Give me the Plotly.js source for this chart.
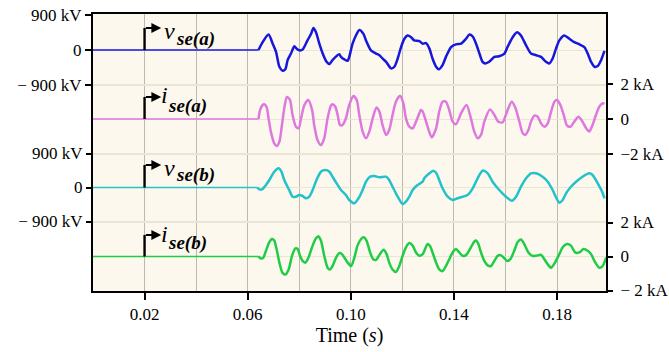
<!DOCTYPE html>
<html><head><meta charset="utf-8">
<script src="https://cdn.plot.ly/plotly-3.0.1.min.js"></script>
<style>html,body{margin:0;padding:0;background:#fff}#chart{width:669px;height:352px}</style>
</head><body><div id="chart"></div>
<script>
// ---------- DATA (time in ms, voltages in kV, currents in kA) ----------
const tVa = [0, 64.2, 65.8, 68.1, 69.7, 71.0, 72.3, 73.5, 74.6, 75.5, 76.8, 78.1, 79.0, 80.0, 81.3, 83.2, 84.6, 85.5, 86.5, 87.8, 89.1, 90.6, 91.7, 92.9, 95.5, 96.2, 97.5, 98.8, 99.4, 100.7, 102.0, 103.3, 104.9, 105.9, 107.8, 109.8, 111.1, 112.3, 113.7, 115.6, 116.9, 118.2, 119.5, 120.8, 122.0, 123.4, 124.6, 126.6, 127.9, 129.2, 130.5, 131.7, 133.1, 134.1, 135.6, 136.9, 138.9, 140.8, 142.8, 144.7, 146.0, 147.3, 148.6, 149.9, 151.1, 152.2, 153.7, 155.7, 157.6, 159.6, 160.8, 162.8, 164.5, 166.0, 168.0, 169.9, 171.9, 173.8, 175.7, 177.0, 178.3, 179.6, 180.9, 182.8, 184.8, 186.7, 188.7, 190.6, 191.9, 193.2, 194.5, 195.8, 197.1, 198.4];
const vSeA = [0, 0, 203, 398, 162, -51, -431, -532, -497, -261, -91, 94, 35, -8, 10, 246, 416, 568, 456, 162, -91, -304, -363, -261, -109, -177, -243, -279, -177, 162, 373, 517, 416, 246, -8, -91, -134, -218, -304, -472, -431, -218, 76, 289, 373, 330, 246, 228, 162, 177, 35, -218, -431, -497, -388, -177, 76, 145, 162, 289, 398, 347, 162, -91, -304, -345, -304, -177, -160, -91, 76, 330, 456, 373, 119, -91, -134, -177, -304, -345, -218, 35, 246, 373, 289, 203, 145, 76, -91, -304, -431, -413, -261, -25];

const tIa = [0, 64.2, 64.8, 65.8, 66.4, 67.3, 68.1, 69.0, 70.3, 71.2, 72.3, 73.3, 74.2, 75.2, 76.4, 77.4, 78.7, 79.8, 80.7, 82.0, 83.5, 85.0, 85.8, 87.1, 88.4, 89.7, 91.0, 92.3, 92.9, 94.0, 94.9, 95.8, 96.8, 98.1, 99.4, 101.0, 102.3, 103.3, 104.6, 105.9, 107.2, 108.5, 109.9, 111.1, 112.3, 113.7, 114.9, 116.2, 117.5, 119.1, 120.4, 121.4, 122.7, 124.0, 125.3, 126.6, 127.2, 127.9, 129.2, 129.8, 131.4, 133.1, 134.3, 135.6, 136.9, 138.2, 139.5, 140.8, 142.8, 144.9, 146.6, 147.9, 149.2, 150.5, 151.8, 154.0, 155.7, 157.2, 158.9, 160.6, 162.4, 163.7, 165.4, 166.7, 167.7, 168.9, 169.9, 171.2, 172.5, 173.8, 175.1, 176.4, 177.7, 179.0, 180.0, 181.3, 182.6, 183.9, 185.2, 186.7, 188.3, 189.5, 191.3, 192.5, 193.8, 195.1, 196.4, 197.7, 198.4];
const iSeA = [0, 0, 0.51, 0.80, 0.84, 0.70, 0.04, -0.72, -1.39, -1.54, -1.30, -0.34, 0.61, 1.26, 1.09, 0.23, -0.44, -0.53, 0.04, 0.80, 1.09, 0.51, -0.34, -1.20, -1.49, -1.10, 0.04, 0.76, 0.84, 0.70, 0.23, -0.34, -0.34, 0.04, 0.80, 1.31, 1.09, 0.23, -0.72, -1.10, -0.72, 0.04, 0.65, 0.42, -0.34, -0.91, -0.63, 0.23, 0.99, 1.33, 0.90, 0.04, -0.44, -0.53, -0.15, 0.33, 0.51, 0.42, -0.15, -0.44, -1.05, -0.53, 0.42, 0.99, 0.99, 0.51, -0.15, -0.30, 0.33, 0.80, 0.04, -0.72, -1.10, -0.91, -0.15, 0.55, 0.23, -0.15, -0.19, 0.42, 0.99, 0.70, -0.15, -0.82, -0.91, -0.63, -0.15, 0.19, 0.13, -0.25, -0.44, -0.25, 0.42, 0.99, 1.09, 0.80, 0.23, -0.38, -0.44, -0.15, 0.13, -0.06, -0.53, -0.72, -0.34, 0.23, 0.70, 0.90, 0.86];

const tVb = [0, 63.8, 64.5, 65.6, 66.8, 68.4, 70.3, 72.0, 72.9, 74.2, 76.1, 77.4, 78.7, 80.0, 81.3, 82.6, 83.9, 85.2, 86.7, 88.4, 90.1, 91.7, 92.9, 94.5, 96.2, 98.1, 99.4, 101.4, 103.0, 104.6, 105.9, 107.5, 109.1, 111.1, 113.7, 114.9, 116.2, 118.2, 120.1, 121.4, 122.7, 124.0, 125.9, 127.9, 128.5, 130.5, 132.0, 133.1, 134.3, 135.6, 137.6, 139.5, 141.4, 143.4, 145.3, 147.3, 149.2, 151.1, 153.1, 155.0, 157.6, 160.2, 162.5, 164.1, 166.0, 168.0, 169.9, 171.9, 174.4, 176.4, 178.3, 179.8, 180.9, 182.2, 183.5, 185.4, 187.4, 189.9, 192.5, 193.8, 195.8, 197.5, 198.4];
const vSeB = [0, 0, -48, -48, 40, 199, 418, 508, 445, 199, -66, -244, -244, -199, -225, -286, -244, -66, 199, 418, 463, 418, 286, 111, -66, -199, -331, -418, -286, -66, 154, 286, 304, 270, 286, 199, 21, -244, -437, -376, -244, -66, 66, 154, 243, 376, 445, 392, 199, -21, -244, -331, -286, -244, -199, -21, 243, 445, 376, 154, -66, -244, -349, -244, 21, 243, 376, 376, 286, 154, -66, -286, -402, -331, -154, 21, 154, 286, 376, 331, 111, -111, -286];

const tIb = [0, 64.2, 65.2, 66.1, 67.1, 68.4, 69.4, 70.3, 71.2, 72.3, 73.5, 74.6, 75.9, 77.2, 78.5, 79.4, 80.3, 81.3, 82.4, 83.6, 85.2, 86.5, 87.4, 88.4, 89.7, 91.0, 91.9, 92.9, 94.3, 95.5, 96.6, 97.5, 98.8, 100.1, 101.4, 102.6, 104.0, 105.0, 106.1, 107.5, 108.7, 109.8, 111.3, 112.7, 113.9, 114.9, 116.2, 117.5, 118.8, 120.1, 121.4, 122.7, 124.0, 125.3, 126.6, 127.9, 129.8, 130.8, 131.7, 133.1, 134.3, 135.6, 136.9, 138.2, 139.5, 140.8, 142.1, 143.4, 144.7, 146.6, 147.9, 148.6, 149.5, 150.5, 151.8, 153.1, 154.4, 155.7, 157.0, 158.0, 159.3, 160.6, 161.9, 163.4, 164.7, 166.0, 167.3, 168.9, 170.5, 171.9, 173.8, 175.1, 176.4, 177.7, 179.2, 180.9, 182.2, 183.9, 185.4, 187.0, 188.7, 190.3, 191.9, 193.2, 194.7, 196.4, 197.7, 199.0];
const iSeB = [0, 0, -0.12, -0.06, 0.34, 0.84, 1.03, 0.94, 0.44, -0.36, -0.96, -1.06, -0.76, 0.04, 0.48, 0.44, 0.04, -0.26, -0.36, -0.06, 0.64, 1.07, 1.19, 0.94, 0.04, -0.66, -0.76, -0.56, -0.06, 0.20, 0.14, -0.06, -0.36, -0.56, -0.06, 0.64, 1.03, 1.13, 0.94, 0.24, -0.16, -0.20, 0.14, 0.40, 0.14, -0.36, -0.76, -0.91, -0.56, 0.04, 0.54, 0.79, 0.64, 0.24, 0.04, 0.14, 0.73, 0.60, 0.24, -0.36, -0.76, -0.86, -0.56, -0.16, 0.24, 0.44, 0.24, 0.04, 0.08, 0.54, 0.88, 0.94, 0.73, 0.24, -0.26, -0.52, -0.56, -0.26, 0.04, 0.08, -0.06, -0.26, -0.16, 0.34, 0.84, 1.00, 0.73, 0.24, 0.04, 0.04, 0.10, -0.16, -0.46, -0.66, -0.36, 0.14, 0.54, 0.73, 0.64, 0.24, 0.24, 0.44, 0.34, 0.14, -0.32, -0.66, -0.56, -0.06];

const xTickVals = [0.02, 0.06, 0.10, 0.14, 0.18];
const xTickText = ["0.02", "0.06", "0.10", "0.14", "0.18"];
const kvTickVals = [-900, 0, 900];
const kvTickText = ["\u2212 900 kV", "0", "900 kV"];
const kaTickVals = [-2, 0, 2];
const kaTickTextA = ["\u22122 kA", "0", "2 kA"];
const kaTickTextB = ["\u2212 2 kA", "0", "2 kA"];

// signal labels: main symbol + subscript
const labelMain = ["v", "i", "v", "i"];
const labelSub = ["se(a)", "se(a)", "se(b)", "se(b)"];

// ---------- LAYOUT GEOMETRY ----------
const W = 669, H = 352;
const M = {l: 93, r: 63, t: 14, b: 61};
const TOP = M.t, BOT = H - M.b;
function yr(zeroPx, pxPerUnit) { return [(zeroPx - BOT) / pxPerUnit, (zeroPx - TOP) / pxPerUnit]; }
const PXT = 0.02 / 51.55;               // seconds per pixel
const xAt = px => (px - M.l - 0.75) * PXT;

const FONT = "'Liberation Serif', 'Times New Roman', serif";
const sec = a => a.map(v => v / 1000);

const colors = {va: "#1616dc", ia: "#de78de", vb: "#22c2c8", ib: "#1fcc46"};

function pair(t, y, col, yaxis) {
  const x = sec(t);
  return [
    {x: x.slice(0, 2), y: y.slice(0, 2), yaxis, type: "scatter", mode: "lines",
     line: {color: col, width: 1.3}, hoverinfo: "skip", showlegend: false},
    {x: x.slice(1), y: y.slice(1), yaxis, type: "scatter", mode: "lines",
     line: {color: col, width: 2.5, shape: "spline", smoothing: 0.7}, showlegend: false}
  ];
}

const data = [
  ...pair(tVa, vSeA, colors.va, "y"),
  ...pair(tIa, iSeA, colors.ia, "y2"),
  ...pair(tVb, vSeB, colors.vb, "y3"),
  ...pair(tIb, iSeB, colors.ib, "y4")
];

const gridLight = "#ebe5d6";
const gridDark = "#bfb8ad";
const tickFont = {family: FONT, size: 17, color: "#000"};

const yBase = {
  tickmode: "array", ticks: "outside", ticklen: 6, tickwidth: 2, tickcolor: "#000",
  showgrid: true, gridcolor: gridLight, gridwidth: 1, zeroline: false,
  tickfont: tickFont, fixedrange: true
};

const rVa = yr(50, 35 / 900), rIa = yr(119, 35 / 2), rVb = yr(187.5, 34 / 900), rIb = yr(256.5, 34 / 2);

// label geometry in pixels: arrow level, main-letter centre, subscript centre, x positions
const labelDefs = [
  {yref: "y",  zero: 50,    ppu: 35 / 900, lvl: 28,  mainY: 31,  subY: 39,  mainX: 164, subX: 176},
  {yref: "y2", zero: 119,   ppu: 35 / 2,   lvl: 97,  mainY: 95,  subY: 106, mainX: 161, subX: 168},
  {yref: "y3", zero: 187.5, ppu: 34 / 900, lvl: 165, mainY: 168, subY: 175, mainX: 164, subX: 176},
  {yref: "y4", zero: 256.5, ppu: 34 / 2,   lvl: 235, mainY: 234, subY: 243, mainX: 161, subX: 168}
];
const shapes = [], annotations = [];
labelDefs.forEach((d, k) => {
  const level = (d.zero - d.lvl) / d.ppu;
  shapes.push({type: "line", xref: "x", yref: d.yref, x0: 0.02, x1: 0.02, y0: 0, y1: level,
    line: {color: "#000", width: 2.4}});
  annotations.push({xref: "x", yref: d.yref, x: xAt(162), y: level, ax: 0.0199, ay: level,
    axref: "x", ayref: d.yref, text: "", showarrow: true, arrowhead: 2, arrowsize: 0.9,
    arrowwidth: 2.2, arrowcolor: "#000", standoff: 0});
  annotations.push({xref: "x", yref: d.yref, x: xAt(d.mainX), y: level, xanchor: "left", yanchor: "middle",
    yshift: d.lvl - d.mainY, showarrow: false, borderpad: 0,
    text: "<i>" + labelMain[k] + "</i>", font: {family: FONT, size: 24, color: "#000"}});
  annotations.push({xref: "x", yref: d.yref, x: xAt(d.subX), y: level, xanchor: "left", yanchor: "middle",
    yshift: d.lvl - d.subY, showarrow: false, borderpad: 0,
    text: "<b><i>" + labelSub[k] + "</i></b>", font: {family: FONT, size: 19, color: "#000"}});
});

const layout = {
  width: W, height: H, margin: M,
  paper_bgcolor: "#ffffff", plot_bgcolor: "#fcf8ee",
  showlegend: false,
  xaxis: {
    range: [0, 0.199], tickmode: "array", tickvals: xTickVals, ticktext: xTickText,
    ticks: "outside", ticklen: 7, tickwidth: 2, tickcolor: "#000",
    showline: true, linewidth: 2, linecolor: "#000", mirror: true,
    showgrid: true, gridcolor: gridDark, gridwidth: 1, zeroline: false,
    minor: {tickmode: "linear", tick0: 0, dtick: 0.02, showgrid: true, gridcolor: gridDark, gridwidth: 1, ticks: ""},
    tickfont: tickFont,
    title: {text: "Time (<i>s</i>)", font: {family: FONT, size: 20, color: "#000"}, standoff: 3},
    fixedrange: true
  },
  xaxis2: {
    overlaying: "x", matches: "x", range: [0, 0.199], tickmode: "array", tickvals: xTickVals,
    ticks: "inside", ticklen: 7, tickwidth: 2, tickcolor: "#000", showticklabels: false,
    showgrid: false, showline: false, zeroline: false, anchor: "y"
  },
  yaxis: Object.assign({}, yBase, {range: rVa, tickvals: kvTickVals, ticktext: kvTickText, side: "left",
    showline: true, linewidth: 2, linecolor: "#000", mirror: true}),
  yaxis2: Object.assign({}, yBase, {range: rIa, tickvals: kaTickVals, ticktext: kaTickTextA, side: "right",
    overlaying: "y", ticklabelstandoff: 4}),
  yaxis3: Object.assign({}, yBase, {range: rVb, tickvals: kvTickVals, ticktext: kvTickText, side: "left",
    overlaying: "y"}),
  yaxis4: Object.assign({}, yBase, {range: rIb, tickvals: kaTickVals, ticktext: kaTickTextB, side: "right",
    overlaying: "y", ticklabelstandoff: 4}),
  shapes, annotations
};

Plotly.newPlot("chart", data, layout, {displayModeBar: false, staticPlot: true});
</script>
</body></html>
